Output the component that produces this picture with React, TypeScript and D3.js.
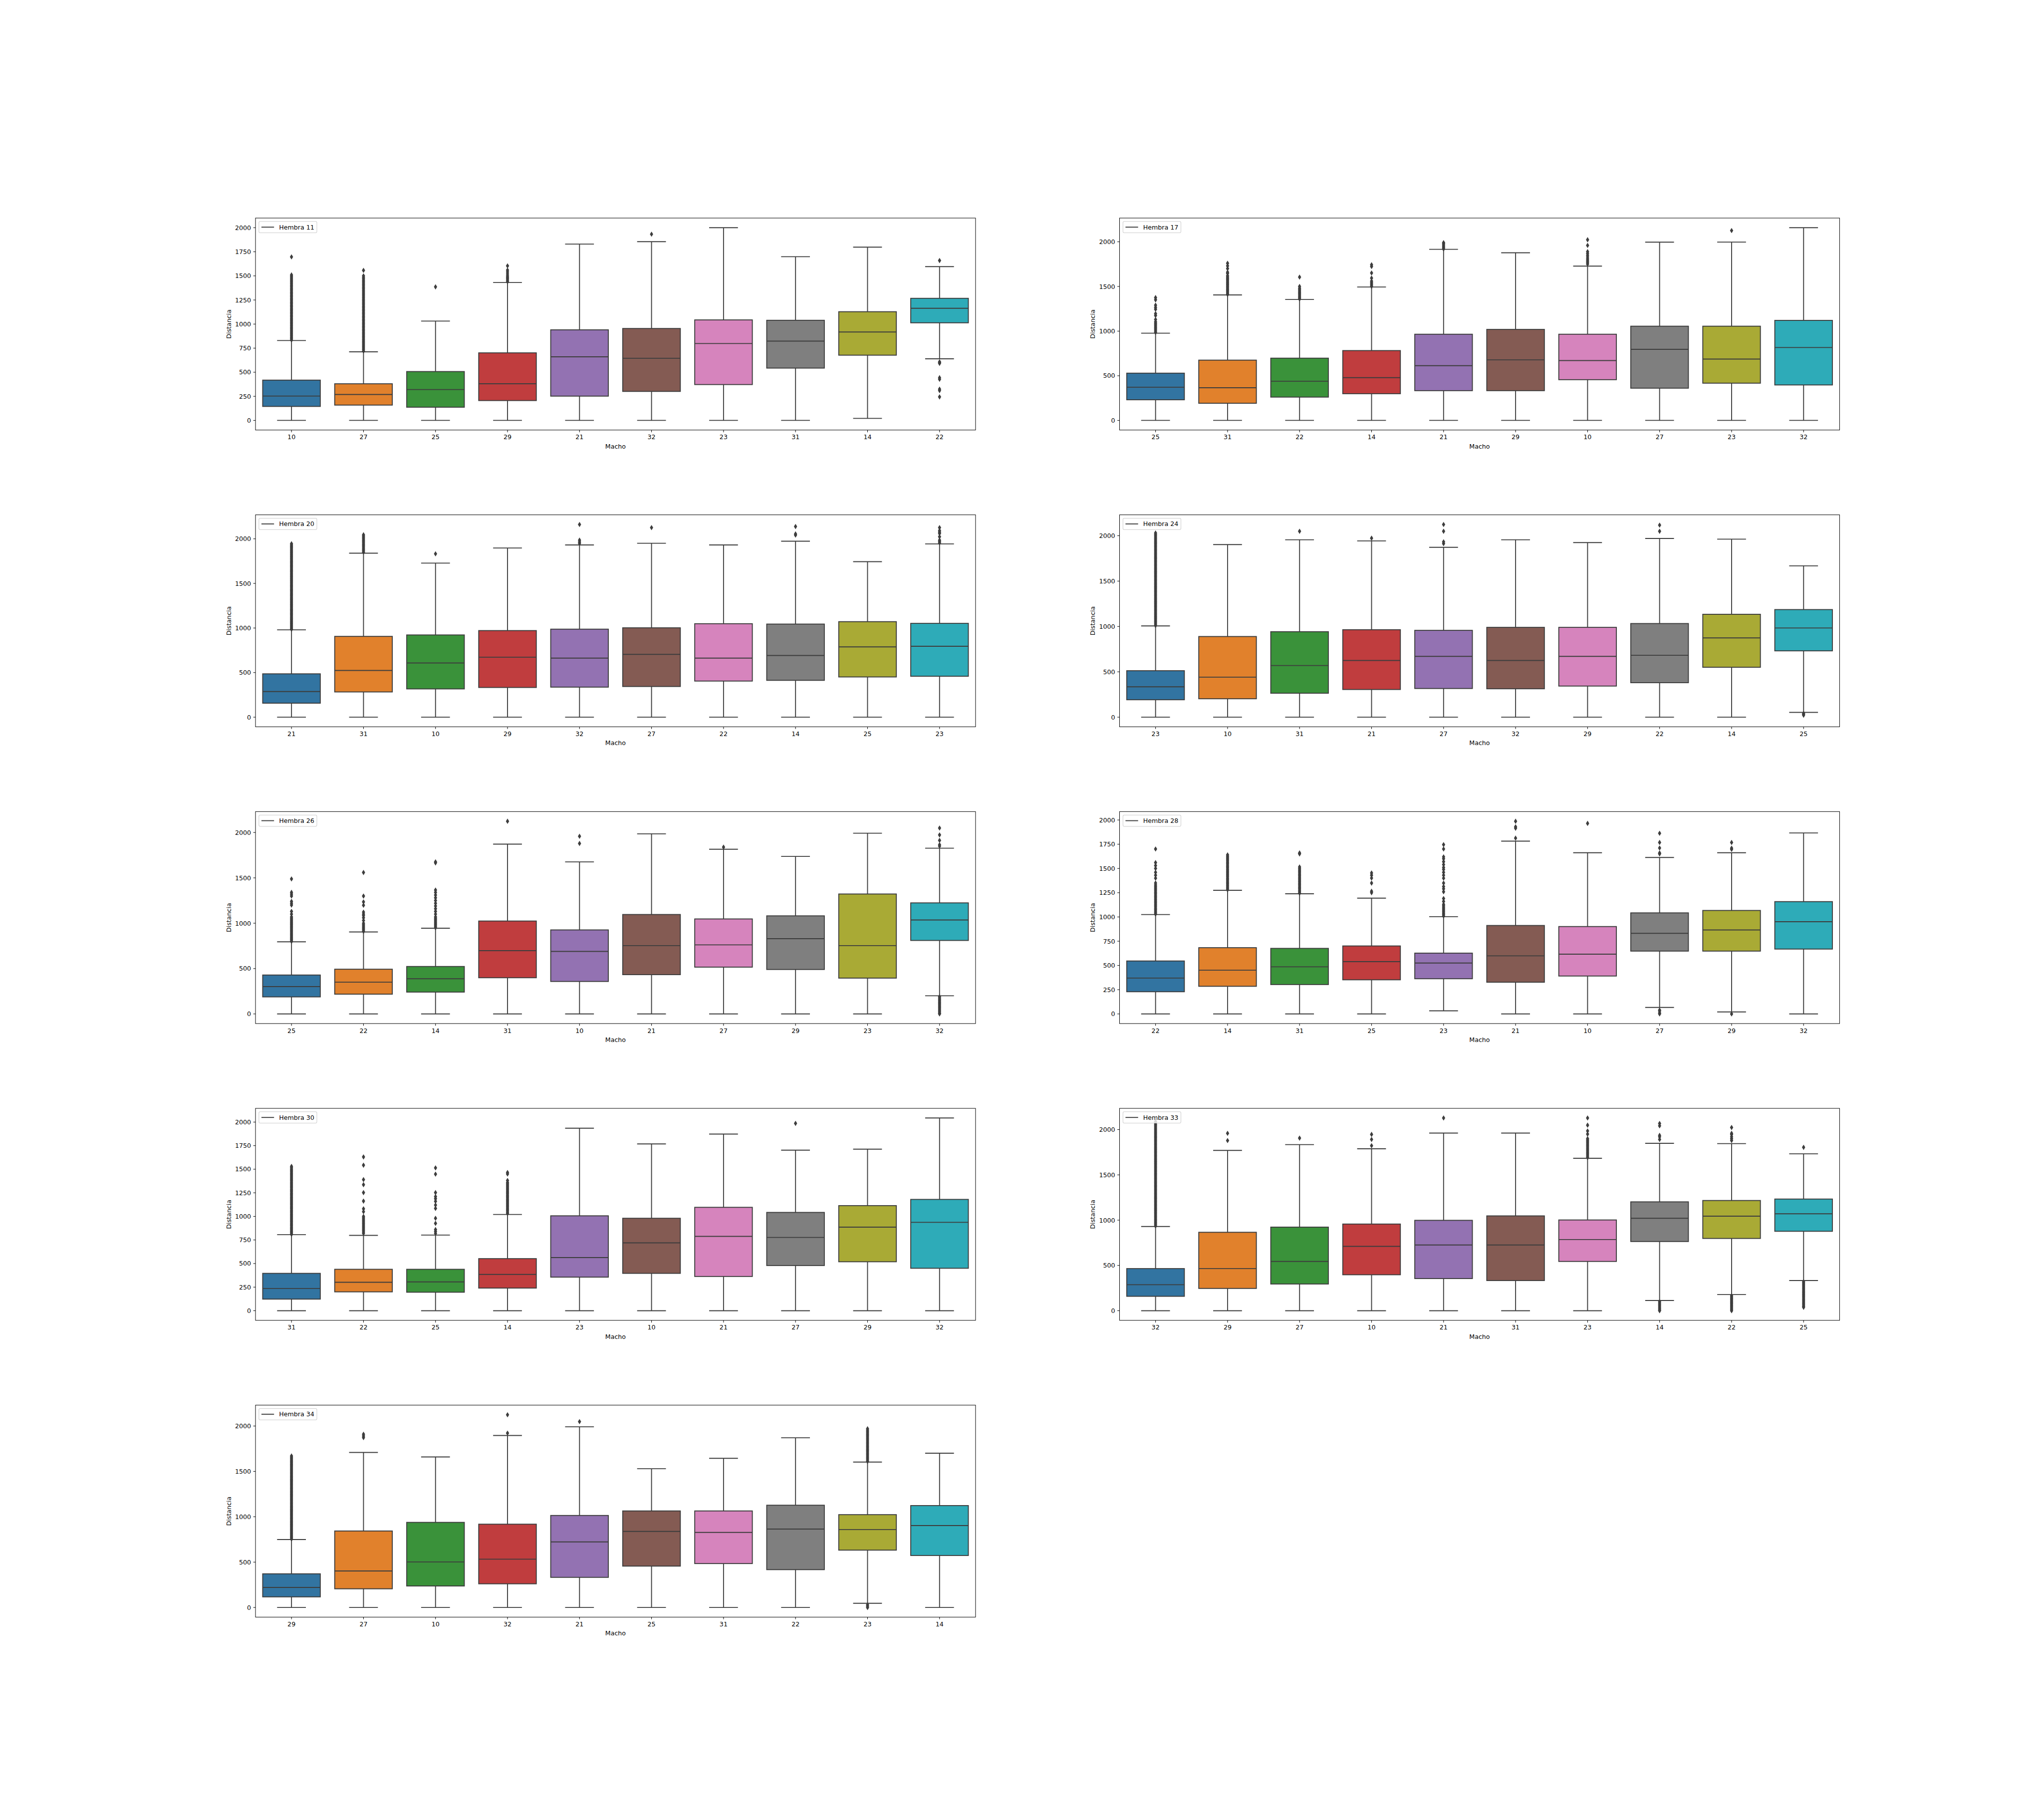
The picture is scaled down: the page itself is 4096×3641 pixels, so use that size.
import React from "react";
import * as d3 from "d3";

// ---------------- DATA ----------------
const hembras = ["11", "17", "20", "24", "26", "28", "30", "33", "34"];
const yTickSteps = [250, 500, 500, 500, 500, 250, 250, 500, 500];

// Hembra 11
const h11Machos = ["10", "27", "25", "29", "21", "32", "23", "31", "14", "22"];
const h11Low = [0, 0, 0, 0, 0, 0, 0, 0, 21, 639];
const h11Q1 = [145, 159, 137, 206, 252, 301, 372, 543, 677, 1013];
const h11Median = [253, 269, 320, 380, 660, 645, 798, 823, 918, 1164];
const h11Q3 = [418, 380, 507, 701, 940, 954, 1043, 1039, 1128, 1267];
const h11High = [829, 712, 1031, 1431, 1830, 1855, 2000, 1699, 1798, 1596];
const h11Fliers = [
  [835, 850, 865, 880, 895, 910, 925, 940, 955, 970, 985, 1000, 1015, 1030, 1045, 1060, 1075, 1090, 1105, 1120, 1135, 1150, 1165, 1180, 1195, 1210, 1225, 1240, 1255, 1270, 1285, 1300, 1315, 1330, 1345, 1360, 1375, 1390, 1405, 1420, 1435, 1450, 1465, 1480, 1495, 1510, 1697],
  [720, 735, 750, 765, 780, 795, 810, 825, 840, 855, 870, 885, 900, 915, 930, 945, 960, 975, 990, 1005, 1020, 1035, 1050, 1065, 1080, 1095, 1110, 1125, 1140, 1155, 1170, 1185, 1200, 1215, 1230, 1245, 1260, 1275, 1290, 1305, 1320, 1335, 1350, 1365, 1380, 1395, 1410, 1425, 1440, 1455, 1470, 1485, 1500, 1557],
  [1386],
  [1440, 1455, 1470, 1485, 1500, 1520, 1540, 1560, 1604],
  [],
  [1933],
  [],
  [],
  [],
  [1659, 608, 600, 592, 443, 427, 324, 310, 244],
];

// Hembra 17
const h17Machos = ["25", "31", "22", "14", "21", "29", "10", "27", "23", "32"];
const h17Low = [0, 0, 0, 0, 0, 0, 0, 0, 0, 0];
const h17Q1 = [231, 192, 261, 299, 333, 333, 456, 361, 417, 397];
const h17Median = [372, 366, 439, 479, 613, 678, 670, 796, 687, 816];
const h17Q3 = [529, 675, 697, 782, 965, 1019, 965, 1055, 1055, 1120];
const h17High = [977, 1405, 1354, 1494, 1916, 1877, 1728, 1996, 1997, 2158];
const h17Fliers = [
  [985, 1000, 1015, 1030, 1045, 1060, 1075, 1090, 1105, 1130, 1175, 1195, 1245, 1265, 1290, 1350, 1375],
  [1410, 1425, 1440, 1455, 1470, 1485, 1500, 1515, 1530, 1545, 1560, 1575, 1590, 1605, 1620, 1645, 1660, 1700, 1730, 1760],
  [1360, 1375, 1390, 1405, 1420, 1435, 1450, 1465, 1480, 1500, 1605],
  [1500, 1515, 1530, 1545, 1560, 1594, 1651, 1724, 1743],
  [1920, 1935, 1950, 1965, 1980, 1990],
  [],
  [1750, 1765, 1780, 1795, 1810, 1830, 1850, 1870, 1890, 1960, 2023],
  [],
  [2126],
  [],
];

// Hembra 20
const h20Machos = ["21", "31", "10", "29", "32", "27", "22", "14", "25", "23"];
const h20Low = [0, 0, 0, 0, 0, 0, 0, 0, 0, 0];
const h20Q1 = [157, 283, 317, 333, 337, 344, 405, 413, 451, 459];
const h20Median = [287, 524, 608, 673, 662, 704, 662, 692, 788, 795];
const h20Q3 = [486, 906, 922, 971, 987, 1002, 1048, 1044, 1071, 1052];
const h20High = [979, 1839, 1728, 1897, 1931, 1950, 1931, 1973, 1744, 1943];
const h20Fliers = [
  [985, 1000, 1015, 1030, 1045, 1060, 1075, 1090, 1105, 1120, 1135, 1150, 1165, 1180, 1195, 1210, 1225, 1240, 1255, 1270, 1285, 1300, 1315, 1330, 1345, 1360, 1375, 1390, 1405, 1420, 1435, 1450, 1465, 1480, 1495, 1510, 1525, 1540, 1555, 1570, 1585, 1600, 1615, 1630, 1645, 1660, 1675, 1690, 1705, 1720, 1735, 1750, 1765, 1780, 1795, 1810, 1825, 1840, 1855, 1870, 1885, 1900, 1915, 1930, 1945],
  [1850, 1865, 1880, 1895, 1910, 1925, 1940, 1955, 1970, 1985, 2000, 2015, 2030, 2045],
  [1832],
  [],
  [1950, 1965, 1985, 2161],
  [2126],
  [],
  [2042, 2055, 2138],
  [],
  [1955, 1970, 1985, 2023, 2060, 2075, 2092, 2126],
];

// Hembra 24
const h24Machos = ["23", "10", "31", "21", "27", "32", "29", "22", "14", "25"];
const h24Low = [0, 0, 0, 0, 0, 0, 0, 0, 0, 53];
const h24Q1 = [192, 203, 264, 305, 316, 313, 343, 380, 550, 731];
const h24Median = [335, 441, 569, 625, 670, 625, 670, 682, 874, 983];
const h24Q3 = [512, 889, 942, 964, 957, 990, 990, 1032, 1134, 1186];
const h24High = [1006, 1902, 1955, 1943, 1872, 1955, 1924, 1970, 1962, 1668];
const h24Fliers = [
  [1010, 1025, 1040, 1055, 1070, 1085, 1100, 1115, 1130, 1145, 1160, 1175, 1190, 1205, 1220, 1235, 1250, 1265, 1280, 1295, 1310, 1325, 1340, 1355, 1370, 1385, 1400, 1415, 1430, 1445, 1460, 1475, 1490, 1505, 1520, 1535, 1550, 1565, 1580, 1595, 1610, 1625, 1640, 1655, 1670, 1685, 1700, 1715, 1730, 1745, 1760, 1775, 1790, 1805, 1820, 1835, 1850, 1865, 1880, 1895, 1910, 1925, 1940, 1955, 1970, 1985, 2000, 2015, 2030],
  [],
  [2049],
  [1973],
  [1913, 1932, 2049, 2124],
  [],
  [],
  [2049, 2117],
  [],
  [42, 32, 22],
];

// Hembra 26
const h26Machos = ["25", "22", "14", "31", "10", "21", "27", "29", "23", "32"];
const h26Low = [0, 0, 0, 0, 0, 0, 0, 0, 0, 200];
const h26Q1 = [188, 218, 241, 399, 358, 433, 516, 490, 395, 810];
const h26Median = [301, 350, 388, 697, 689, 753, 761, 829, 753, 1036];
const h26Q3 = [429, 493, 523, 1024, 926, 1096, 1047, 1081, 1322, 1224];
const h26High = [795, 904, 945, 1872, 1676, 1985, 1815, 1736, 1992, 1827];
const h26Fliers = [
  [800, 815, 830, 845, 860, 875, 890, 905, 920, 935, 950, 965, 980, 995, 1010, 1025, 1040, 1055, 1070, 1100, 1130, 1200, 1220, 1240, 1300, 1320, 1340, 1488],
  [910, 925, 940, 955, 970, 985, 1000, 1030, 1060, 1085, 1100, 1122, 1198, 1235, 1299, 1559],
  [950, 965, 980, 995, 1010, 1025, 1040, 1055, 1070, 1100, 1130, 1160, 1190, 1220, 1250, 1280, 1310, 1340, 1365, 1665, 1676],
  [2124],
  [1879, 1958],
  [],
  [1838],
  [],
  [],
  [1850, 1865, 1913, 1973, 2049, 190, 175, 160, 145, 130, 115, 100, 85, 70, 55, 40, 25, 10, 0],
];

// Hembra 28
const h28Machos = ["22", "14", "31", "25", "23", "21", "10", "27", "29", "32"];
const h28Low = [0, 0, 0, 0, 32, 0, 0, 67, 21, 0];
const h28Q1 = [229, 285, 303, 352, 363, 327, 391, 648, 648, 669];
const h28Median = [370, 451, 486, 539, 525, 599, 616, 831, 866, 951];
const h28Q3 = [546, 683, 676, 701, 627, 912, 901, 1042, 1067, 1158];
const h28High = [1025, 1275, 1239, 1194, 1003, 1782, 1662, 1613, 1662, 1866];
const h28Fliers = [
  [1030, 1045, 1060, 1075, 1090, 1105, 1120, 1135, 1150, 1165, 1180, 1195, 1210, 1225, 1240, 1255, 1270, 1285, 1300, 1315, 1330, 1350, 1400, 1430, 1460, 1500, 1530, 1560, 1701],
  [1280, 1295, 1310, 1325, 1340, 1355, 1370, 1385, 1400, 1415, 1430, 1445, 1460, 1475, 1490, 1505, 1520, 1535, 1550, 1565, 1580, 1595, 1610, 1625, 1640],
  [1245, 1260, 1275, 1290, 1305, 1320, 1335, 1350, 1365, 1380, 1395, 1410, 1425, 1440, 1455, 1470, 1485, 1500, 1515, 1650, 1660],
  [1250, 1265, 1349, 1401, 1430, 1454],
  [1010, 1025, 1040, 1055, 1070, 1085, 1100, 1115, 1130, 1160, 1190, 1260, 1290, 1313, 1349, 1400, 1430, 1460, 1490, 1510, 1540, 1570, 1600, 1620, 1701, 1746],
  [1813, 1915, 1930, 1987],
  [1965],
  [1650, 1660, 1711, 1768, 1863, 40, 30, 10, 0],
  [1697, 1710, 1768, 0],
  [],
];

// Hembra 30
const h30Machos = ["31", "22", "25", "14", "23", "10", "21", "27", "29", "32"];
const h30Low = [0, 0, 0, 0, 0, 0, 0, 0, 0, 0];
const h30Q1 = [123, 200, 196, 240, 356, 396, 363, 479, 519, 450];
const h30Median = [236, 301, 305, 385, 563, 719, 788, 777, 886, 937];
const h30Q3 = [396, 439, 439, 552, 1006, 980, 1096, 1042, 1114, 1180];
const h30High = [806, 799, 802, 1020, 1935, 1768, 1873, 1702, 1713, 2043];
const h30Fliers = [
  [810, 825, 840, 855, 870, 885, 900, 915, 930, 945, 960, 975, 990, 1005, 1020, 1035, 1050, 1065, 1080, 1095, 1110, 1125, 1140, 1155, 1170, 1185, 1200, 1215, 1230, 1245, 1260, 1275, 1290, 1305, 1320, 1335, 1350, 1365, 1380, 1395, 1410, 1425, 1440, 1455, 1470, 1485, 1500, 1515, 1530],
  [820, 835, 850, 865, 880, 895, 910, 925, 940, 955, 970, 985, 1000, 1050, 1080, 1162, 1252, 1336, 1390, 1543, 1630],
  [820, 840, 860, 926, 980, 1085, 1120, 1160, 1187, 1210, 1252, 1448, 1514],
  [1030, 1045, 1060, 1075, 1090, 1105, 1120, 1135, 1150, 1165, 1180, 1195, 1210, 1225, 1240, 1255, 1270, 1285, 1300, 1315, 1330, 1345, 1360, 1380, 1450, 1465],
  [],
  [],
  [],
  [1986],
  [],
  [],
];

// Hembra 33
const h33Machos = ["32", "29", "27", "10", "21", "31", "23", "14", "22", "25"];
const h33Low = [0, 0, 0, 0, 0, 0, 0, 113, 178, 333];
const h33Q1 = [159, 246, 295, 397, 355, 333, 544, 764, 798, 877];
const h33Median = [287, 465, 544, 711, 726, 726, 786, 1021, 1044, 1070];
const h33Q3 = [465, 866, 923, 957, 998, 1047, 1002, 1202, 1217, 1233];
const h33High = [930, 1770, 1834, 1788, 1962, 1962, 1683, 1849, 1845, 1732];
const h33Fliers = [
  [935, 950, 965, 980, 995, 1010, 1025, 1040, 1055, 1070, 1085, 1100, 1115, 1130, 1145, 1160, 1175, 1190, 1205, 1220, 1235, 1250, 1265, 1280, 1295, 1310, 1325, 1340, 1355, 1370, 1385, 1400, 1415, 1430, 1445, 1460, 1475, 1490, 1505, 1520, 1535, 1550, 1565, 1580, 1595, 1610, 1625, 1640, 1655, 1670, 1685, 1700, 1715, 1730, 1745, 1760, 1775, 1790, 1805, 1820, 1835, 1850, 1865, 1880, 1895, 1910, 1925, 1940, 1955, 1970, 1985, 2000, 2015, 2030, 2045, 2060, 2075, 2090],
  [1879, 1959],
  [1906],
  [1822, 1891, 1947],
  [2128],
  [],
  [1690, 1705, 1720, 1735, 1750, 1765, 1780, 1795, 1810, 1825, 1840, 1855, 1870, 1885, 1900, 1950, 1985, 2049, 2128],
  [1891, 1920, 1936, 2042, 2068, 100, 85, 70, 55, 40, 25, 10, 0],
  [1880, 1900, 1920, 1945, 1959, 2023, 165, 150, 135, 120, 105, 90, 75, 60, 45, 30, 15, 0],
  [1804, 320, 305, 290, 275, 260, 245, 230, 215, 200, 185, 170, 155, 140, 125, 110, 95, 80, 65, 50, 38],
];

// Hembra 34
const h34Machos = ["29", "27", "10", "32", "21", "25", "31", "22", "23", "14"];
const h34Low = [0, 0, 0, 0, 0, 0, 0, 0, 46, 0];
const h34Q1 = [117, 206, 237, 261, 332, 456, 484, 417, 632, 573];
const h34Median = [221, 402, 502, 532, 723, 838, 827, 864, 858, 903];
const h34Q3 = [371, 843, 938, 918, 1014, 1064, 1064, 1127, 1023, 1123];
const h34High = [749, 1709, 1659, 1896, 1991, 1529, 1644, 1870, 1603, 1700];
const h34Fliers = [
  [755, 770, 785, 800, 815, 830, 845, 860, 875, 890, 905, 920, 935, 950, 965, 980, 995, 1010, 1025, 1040, 1055, 1070, 1085, 1100, 1115, 1130, 1145, 1160, 1175, 1190, 1205, 1220, 1235, 1250, 1265, 1280, 1295, 1310, 1325, 1340, 1355, 1370, 1385, 1400, 1415, 1430, 1445, 1460, 1475, 1490, 1505, 1520, 1535, 1550, 1565, 1580, 1595, 1610, 1625, 1640, 1655, 1670],
  [1872, 1890, 1909],
  [],
  [1922, 2124],
  [2048],
  [],
  [],
  [],
  [1610, 1625, 1640, 1655, 1670, 1685, 1700, 1715, 1730, 1745, 1760, 1775, 1790, 1805, 1820, 1835, 1850, 1865, 1880, 1895, 1910, 1925, 1940, 1955, 1970, 30, 15, 0],
  [],
];

const palette = ["#3274a1", "#e1812c", "#3a923a", "#c03d3e", "#9372b2", "#845b53", "#d684bd", "#7f7f7f", "#a9aa35", "#2eabb8"];

// ---------------- LAYOUT (reference pixel space 4500x4000) ----------------
const W = 4500;
const H = 4000;
const LEFT = 0.125, RIGHT = 0.9, TOP = 0.88, BOTTOM = 0.11, WSPACE = 0.2, HSPACE = 0.4;
const NROWS = 5, NCOLS = 2;
const AX_W = ((RIGHT - LEFT) * W) / (NCOLS + WSPACE * (NCOLS - 1));
const AX_H = ((TOP - BOTTOM) * H) / (NROWS + HSPACE * (NROWS - 1));
const FS = 13.89;
const FONT = "'DejaVu Sans', sans-serif";
const GRAY = "#3d3d3d";
const LW = 2.08;
const SPINE_LW = 1.11;
const TICK_LEN = 4.86;
const DIAMOND = "M0,-4.7L2.9,0L0,4.7L-2.9,0Z";

let ctx: CanvasRenderingContext2D | null = null;
function textWidth(s: string): number {
  if (!ctx) ctx = document.createElement("canvas").getContext("2d");
  if (!ctx) return s.length * FS * 0.6;
  ctx.font = `${FS}px "DejaVu Sans"`;
  return ctx.measureText(s).width;
}

type PanelData = {
  id: string;
  step: number;
  machos: string[];
  lo: number[];
  q1: number[];
  med: number[];
  q3: number[];
  hi: number[];
  fliers: number[][];
};

function Panel({ p, idx }: { p: PanelData; idx: number }) {
  const col = idx % NCOLS;
  const row = Math.floor(idx / NCOLS);
  const x0 = LEFT * W + col * AX_W * (1 + WSPACE);
  const y0 = (1 - TOP) * H + row * AX_H * (1 + HSPACE);

  const all = [...p.lo, ...p.hi, ...p.fliers.flat()];
  const mn = d3.min(all) as number;
  const mx = d3.max(all) as number;
  const pad = (mx - mn) * 0.05;
  const y = d3.scaleLinear().domain([mn - pad, mx + pad]).range([y0 + AX_H, y0]);
  const x = d3.scaleBand<string>().domain(p.machos).range([x0, x0 + AX_W]).padding(0);
  const boxW = x.bandwidth() * 0.8;
  const capW = boxW * 0.5;
  const ticks = d3.range(Math.ceil((mn - pad) / p.step) * p.step, mx + pad + 1e-6, p.step);

  const label = `Hembra ${p.id}`;
  const lx = x0 + 7.5;
  const ly = y0 + 7.5;
  const lh = 25;
  const lw = 5.56 + 27.8 + 11.1 + textWidth(label) + 5.56;
  const lcy = ly + lh / 2;

  return (
    <g>
      {p.machos.map((m, i) => {
        const cx = (x(m) as number) + x.bandwidth() / 2;
        return (
          <g key={m}>
            <rect
              x={cx - boxW / 2}
              y={y(p.q3[i])}
              width={boxW}
              height={y(p.q1[i]) - y(p.q3[i])}
              fill={palette[i % palette.length]}
              stroke={GRAY}
              strokeWidth={LW}
            />
            <line x1={cx} x2={cx} y1={y(p.q1[i])} y2={y(p.lo[i])} stroke={GRAY} strokeWidth={LW} />
            <line x1={cx} x2={cx} y1={y(p.q3[i])} y2={y(p.hi[i])} stroke={GRAY} strokeWidth={LW} />
            <line x1={cx - capW / 2} x2={cx + capW / 2} y1={y(p.lo[i])} y2={y(p.lo[i])} stroke={GRAY} strokeWidth={LW} />
            <line x1={cx - capW / 2} x2={cx + capW / 2} y1={y(p.hi[i])} y2={y(p.hi[i])} stroke={GRAY} strokeWidth={LW} />
            <line x1={cx - boxW / 2} x2={cx + boxW / 2} y1={y(p.med[i])} y2={y(p.med[i])} stroke={GRAY} strokeWidth={LW} />
            {p.fliers[i].map((v, j) => (
              <path key={j} d={DIAMOND} transform={`translate(${cx},${y(v)})`} fill={GRAY} stroke={GRAY} strokeWidth={1.2} />
            ))}
          </g>
        );
      })}

      <rect x={x0} y={y0} width={AX_W} height={AX_H} fill="none" stroke="#000" strokeWidth={SPINE_LW} />

      {ticks.map((t) => (
        <g key={t}>
          <line x1={x0 - TICK_LEN} x2={x0} y1={y(t)} y2={y(t)} stroke="#000" strokeWidth={SPINE_LW} />
          <text x={x0 - TICK_LEN - 4.86} y={y(t) + 5} textAnchor="end" fontFamily={FONT} fontSize={FS} fill="#000">
            {String(t)}
          </text>
        </g>
      ))}

      {p.machos.map((m) => {
        const cx = (x(m) as number) + x.bandwidth() / 2;
        return (
          <g key={m}>
            <line x1={cx} x2={cx} y1={y0 + AX_H} y2={y0 + AX_H + TICK_LEN} stroke="#000" strokeWidth={SPINE_LW} />
            <text x={cx} y={y0 + AX_H + 20.3} textAnchor="middle" fontFamily={FONT} fontSize={FS} fill="#000">
              {m}
            </text>
          </g>
        );
      })}

      <text x={x0 + AX_W / 2} y={y0 + AX_H + 40.5} textAnchor="middle" fontFamily={FONT} fontSize={FS} fill="#000">
        Macho
      </text>
      <text
        transform={`translate(${x0 - 54},${y0 + AX_H / 2}) rotate(-90)`}
        textAnchor="middle"
        fontFamily={FONT}
        fontSize={FS}
        fill="#000"
      >
        Distancia
      </text>

      <rect x={lx} y={ly} width={lw} height={lh} rx={2.78} ry={2.78} fill="#fff" fillOpacity={0.8} stroke="#cccccc" strokeWidth={SPINE_LW} />
      <line x1={lx + 5.56} x2={lx + 5.56 + 27.8} y1={lcy} y2={lcy} stroke={GRAY} strokeWidth={LW} />
      <text x={lx + 5.56 + 27.8 + 11.1} y={lcy + 5} fontFamily={FONT} fontSize={FS} fill="#000">
        {label}
      </text>
    </g>
  );
}

export default function App() {
  const machos = [h11Machos, h17Machos, h20Machos, h24Machos, h26Machos, h28Machos, h30Machos, h33Machos, h34Machos];
  const lows = [h11Low, h17Low, h20Low, h24Low, h26Low, h28Low, h30Low, h33Low, h34Low];
  const q1s = [h11Q1, h17Q1, h20Q1, h24Q1, h26Q1, h28Q1, h30Q1, h33Q1, h34Q1];
  const meds = [h11Median, h17Median, h20Median, h24Median, h26Median, h28Median, h30Median, h33Median, h34Median];
  const q3s = [h11Q3, h17Q3, h20Q3, h24Q3, h26Q3, h28Q3, h30Q3, h33Q3, h34Q3];
  const highs = [h11High, h17High, h20High, h24High, h26High, h28High, h30High, h33High, h34High];
  const fliers = [h11Fliers, h17Fliers, h20Fliers, h24Fliers, h26Fliers, h28Fliers, h30Fliers, h33Fliers, h34Fliers];

  const panels: PanelData[] = hembras.map((id, i) => ({
    id,
    step: yTickSteps[i],
    machos: machos[i],
    lo: lows[i],
    q1: q1s[i],
    med: meds[i],
    q3: q3s[i],
    hi: highs[i],
    fliers: fliers[i],
  }));

  return (
    <svg
      width={4096}
      height={3641}
      viewBox={`0 0 ${W} ${H}`}
      style={{ position: "absolute", left: 0, top: 0, display: "block", background: "#fff" }}
    >
      <rect x={0} y={0} width={W} height={H} fill="#fff" />
      {panels.map((p, i) => (
        <Panel key={p.id} p={p} idx={i} />
      ))}
    </svg>
  );
}
